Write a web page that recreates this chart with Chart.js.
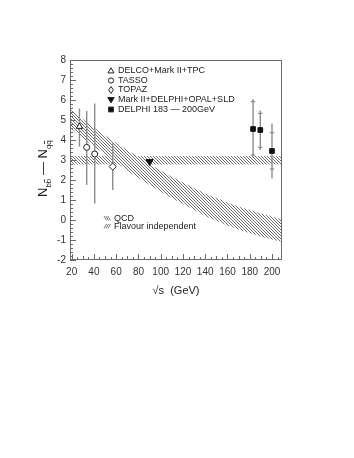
<!DOCTYPE html>
<html><head><meta charset="utf-8">
<script src="https://cdn.jsdelivr.net/npm/chart.js@4"></script>
<style>html,body{margin:0;padding:0;background:#fff;}#wrap{width:354px;height:458px;}</style>
</head><body><div id="wrap"><canvas id="c" width="354" height="458"></canvas></div>
<script>
// ---- axis ticks
const xTicks = [20, 40, 60, 80, 100, 120, 140, 160, 180, 200];
const yTicks = [-2, -1, 0, 1, 2, 3, 4, 5, 6, 7, 8];
// ---- bands
const bandX      = [18.5, 30, 40, 50, 60, 70, 80, 90, 100, 110, 120, 130, 140, 150, 160, 170, 180, 190, 200, 209];
const flavUpper  = [5.55, 5.05, 4.62, 4.22, 3.85, 3.5, 3.15, 2.8, 2.48, 2.17, 1.88, 1.6, 1.33, 1.1, 0.88, 0.68, 0.5, 0.33, 0.18, 0.05];
const flavLower  = [4.6, 4.1, 3.68, 3.28, 2.9, 2.45, 2.1, 1.75, 1.42, 1.1, 0.8, 0.5, 0.2, -0.05, -0.27, -0.47, -0.65, -0.82, -0.97, -1.09];
const qcdX = [18.5, 209];
const qcdUpper = [3.2, 3.2];
const qcdLower = [2.78, 2.78];
// ---- measurements
const delcoX = [27],   delcoY = [4.67], delcoHi = [5.58], delcoLo = [3.67];
const tassoX = [33.5, 40.7], tassoY = [3.63, 3.3], tassoHi = [5.45, 5.83], tassoLo = [1.75, 0.83];
const topazX = [56.9], topazY = [2.67], topazHi = [3.83], topazLo = [1.5];
const lepX = [90], lepY = [2.92], lepHi = [2.98], lepLo = [2.86];
const delphiX = [183, 189.5, 200], delphiY = [4.55, 4.5, 3.45];
const delphiTotHi = [6.05, 5.47, 4.83], delphiTotLo = [3.15, 3.5, 2.08];
const delphiStatHi = [5.92, 5.33, 4.37], delphiStatLo = [3.25, 3.63, 2.55];
// ---- legends
const legendLabels = ['DELCO+Mark II+TPC', 'TASSO', 'TOPAZ', 'Mark II+DELPHI+OPAL+SLD', 'DELPHI 183 \u2014 200GeV'];
const bandLabels = ['QCD', 'Flavour independent'];

const FONT = '"Liberation Sans", Arial, sans-serif';
const ctx = document.getElementById('c').getContext('2d');

function makeHatch(dir) {
  const c = document.createElement('canvas');
  c.width = 3; c.height = 3;
  const g = c.getContext('2d');
  g.fillStyle = '#6e6e6e';
  for (let i = 0; i < 3; i++) g.fillRect(dir > 0 ? i : 2 - i, i, 1, 1);
  return ctx.createPattern(c, 'repeat');
}
const hatchBack = makeHatch(1);

const pts = (xs, ys) => xs.map((x, i) => ({ x, y: ys[i] }));
function bars(xs, hi, lo) {
  const out = [];
  xs.forEach((x, i) => { out.push({ x, y: hi[i] }, { x, y: lo[i] }, { x, y: null }); });
  return out;
}
function caps(xs, hi, lo) {
  const out = [];
  xs.forEach((x, i) => { out.push({ x, y: hi[i] }, { x, y: lo[i] }); });
  return out;
}

const errColor = '#8c8c8c';
const mk = '#222';

const datasets = [
  { label: legendLabels[0], type: 'scatter', data: pts(delcoX, delcoY), pointStyle: 'triangle', pointRadius: 3.6, backgroundColor: '#fff', borderColor: mk, borderWidth: 1, order: 0 },
  { label: legendLabels[1], type: 'scatter', data: pts(tassoX, tassoY), pointStyle: 'circle', pointRadius: 3, backgroundColor: '#fff', borderColor: mk, borderWidth: 1, order: 0 },
  { label: legendLabels[2], type: 'scatter', data: pts(topazX, topazY), pointStyle: 'rectRot', pointRadius: 3.6, backgroundColor: '#fff', borderColor: mk, borderWidth: 1, order: 0 },
  { label: legendLabels[3], type: 'scatter', data: pts(lepX, lepY), pointStyle: 'triangle', rotation: 180, pointRadius: 4, backgroundColor: '#111', borderColor: '#111', borderWidth: 1, order: 0 },
  { label: legendLabels[4], type: 'scatter', data: pts(delphiX, delphiY), pointStyle: 'rect', pointRadius: 3.3, backgroundColor: '#111', borderColor: '#111', borderWidth: 1, order: 0 },
  // error bars
  { label: 'err', type: 'line', data: bars(delcoX.concat(tassoX, topazX, lepX, delphiX), delcoHi.concat(tassoHi, topazHi, lepHi, delphiTotHi), delcoLo.concat(tassoLo, topazLo, lepLo, delphiTotLo)), borderColor: errColor, borderWidth: 1.4, pointRadius: 0, spanGaps: false, fill: false, order: 2 },
  { label: 'caps', type: 'scatter', data: caps(delphiX, delphiStatHi, delphiStatLo), pointStyle: 'line', pointRadius: 2.2, borderColor: errColor, borderWidth: 1.2, order: 2 },
  // bands
  { label: 'flavU', type: 'line', data: pts(bandX, flavUpper), borderWidth: 0, borderColor: 'rgba(0,0,0,0)', pointRadius: 0, tension: 0.3, fill: '+1', backgroundColor: hatchBack, order: 5 },
  { label: 'flavL', type: 'line', data: pts(bandX, flavLower), borderWidth: 0, borderColor: 'rgba(0,0,0,0)', pointRadius: 0, tension: 0.3, fill: false, order: 5 },
  { label: 'qcdU', type: 'line', data: pts(qcdX, qcdUpper), borderWidth: 0, borderColor: 'rgba(0,0,0,0)', pointRadius: 0, fill: '+1', backgroundColor: hatchBack, order: 5 },
  { label: 'qcdL', type: 'line', data: pts(qcdX, qcdLower), borderWidth: 0, borderColor: 'rgba(0,0,0,0)', pointRadius: 0, fill: false, order: 5 }
];

function drawMarker(g, style, x, y, r, fill, stroke) {
  g.save();
  g.beginPath();
  if (style === 'triangle') {
    g.moveTo(x, y - r); g.lineTo(x + r * 0.95, y + r * 0.6); g.lineTo(x - r * 0.95, y + r * 0.6); g.closePath();
  } else if (style === 'down') {
    g.moveTo(x, y + r); g.lineTo(x + r * 0.95, y - r * 0.6); g.lineTo(x - r * 0.95, y - r * 0.6); g.closePath();
  } else if (style === 'circle') {
    g.arc(x, y, r, 0, Math.PI * 2);
  } else if (style === 'diamond') {
    g.moveTo(x, y - r); g.lineTo(x + r * 0.7, y); g.lineTo(x, y + r); g.lineTo(x - r * 0.7, y); g.closePath();
  } else if (style === 'square') {
    g.rect(x - r, y - r, 2 * r, 2 * r);
  }
  g.fillStyle = fill; g.fill();
  g.strokeStyle = stroke; g.lineWidth = 1; g.stroke();
  g.restore();
}

const decor = {
  id: 'decor',
  afterDraw(chart) {
    const g = chart.ctx, a = chart.chartArea;
    const xs = chart.scales.x, ys = chart.scales.y;
    g.save();
    // frame
    g.strokeStyle = '#6a6a6a'; g.lineWidth = 1;
    g.strokeRect(a.left + 0.5, a.top + 0.5, a.right - a.left - 1, a.bottom - a.top - 1);
    // inward ticks x
    g.beginPath();
    for (let v = 20; v <= 205; v += 5) {
      const px = Math.round(xs.getPixelForValue(v)) + 0.5;
      const len = v % 20 === 0 ? 6 : (v % 10 === 0 ? 4 : 3);
      g.moveTo(px, a.bottom); g.lineTo(px, a.bottom - len);
    }
    // inward ticks y
    for (let k = -10; k <= 40; k++) {
      const v = k / 5;
      const py = Math.round(ys.getPixelForValue(v)) + 0.5;
      const len = k % 5 === 0 ? 6 : 3;
      g.moveTo(a.left, py); g.lineTo(a.left + len, py);
    }
    g.stroke();
    // legend
    const styles = ['triangle', 'circle', 'diamond', 'down', 'square'];
    const fills = ['#fff', '#fff', '#fff', '#111', '#111'];
    const sizes = [3.2, 2.6, 3.4, 3.4, 2.4];
    const ly = [71, 80.5, 90, 99.5, 109.5];
    g.font = '9px ' + FONT; g.fillStyle = '#222'; g.textBaseline = 'middle'; g.textAlign = 'left';
    legendLabels.forEach((t, i) => {
      drawMarker(g, styles[i], 111, ly[i], sizes[i], fills[i], '#222');
      g.fillStyle = '#222';
      g.fillText(t, 118, ly[i]);
    });
    // band legend
    const by = [218.5, 226.5];
    bandLabels.forEach((t, i) => {
      g.save();
      g.strokeStyle = '#555'; g.lineWidth = 0.8;
      g.beginPath();
      for (let k = 0; k < 3; k++) {
        const x0 = 104 + k * 2;
        if (i === 0) { g.moveTo(x0, by[i] - 2.5); g.lineTo(x0 + 2.5, by[i] + 2); }
        else { g.moveTo(x0, by[i] + 2); g.lineTo(x0 + 2.5, by[i] - 2.5); }
      }
      g.stroke();
      g.restore();
      g.fillStyle = '#222';
      g.fillText(t, 114, by[i]);
    });
    // y title
    g.save();
    g.translate(47, 197);
    g.rotate(-Math.PI / 2);
    g.textBaseline = 'alphabetic'; g.textAlign = 'left';
    let cx = 0;
    const part = (txt, size, dy, bar) => {
      g.font = size + 'px ' + FONT;
      const w = g.measureText(txt).width;
      g.fillText(txt, cx, dy);
      if (bar) {
        const cw = g.measureText(txt[1]).width;
        const bx = cx + g.measureText(txt[0]).width;
        g.fillRect(bx + 0.5, dy - size * 0.85, cw - 1, 0.8);
      }
      cx += w;
    };
    g.fillStyle = '#222';
    part('N', 13, 0, false);
    part('bb', 8, 4, true);
    part(' \u2014 ', 13, 0, false);
    part('N', 13, 0, false);
    part('qq', 8, 4, true);
    g.restore();
    g.restore();
  }
};

new Chart(ctx, {
  type: 'scatter',
  data: { datasets },
  options: {
    responsive: false,
    devicePixelRatio: 1,
    animation: false,
    layout: { padding: { left: 40, right: 72, top: 60, bottom: 158 } },
    plugins: { legend: { display: false }, tooltip: { enabled: false } },
    scales: {
      x: {
        type: 'linear', min: 18.5, max: 209,
        afterBuildTicks: s => { s.ticks = xTicks.map(v => ({ value: v })); },
        afterFit: s => { s.height = 40; },
        grid: { display: false, drawTicks: false },
        border: { display: false },
        ticks: { padding: 6, maxRotation: 0, autoSkip: false, font: { family: FONT, size: 10 }, color: '#333' },
        title: { display: true, text: '\u221As  (GeV)', font: { family: FONT, size: 11 }, color: '#222', padding: { top: 0, bottom: 2 } }
      },
      y: {
        type: 'linear', min: -2, max: 8,
        afterBuildTicks: s => { s.ticks = yTicks.map(v => ({ value: v })); },
        afterFit: s => { s.width = 30; },
        grid: { display: false, drawTicks: false },
        border: { display: false },
        ticks: { padding: 4, autoSkip: false, font: { family: FONT, size: 10 }, color: '#333' }
      }
    }
  },
  plugins: [decor]
});
</script></body></html>
